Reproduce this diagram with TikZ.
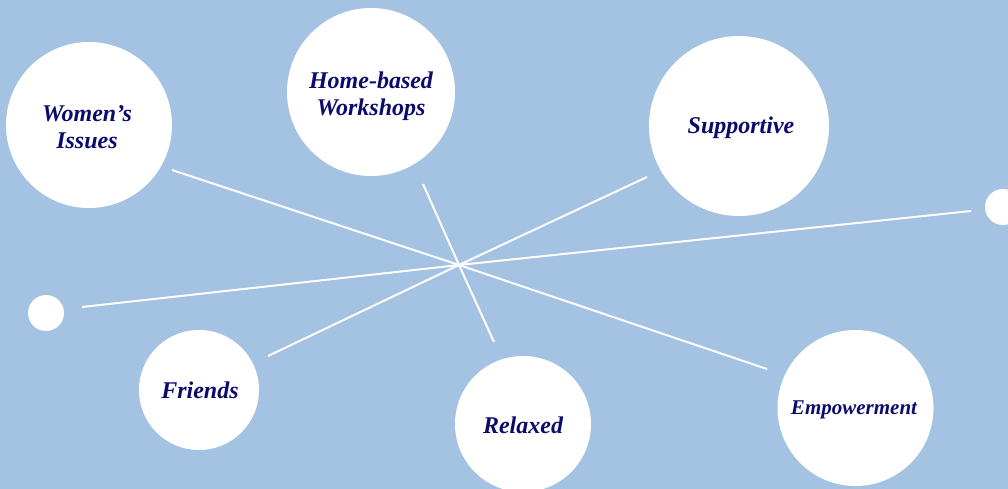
\documentclass[tikz,border=0pt]{standalone}
\usepackage{fontspec}
\setmainfont{Liberation Serif}
\definecolor{bg}{HTML}{A4C2E2}
\definecolor{ink}{HTML}{0B0B6E}
\begin{document}
\begin{tikzpicture}[x=0.75pt,y=-0.75pt,
  bubble/.style={circle,fill=white,draw=none,inner sep=0pt},
  label/.style={text=ink,font=\fontsize{18}{20}\selectfont\bfseries\itshape,align=center,inner sep=0pt},
  spoke/.style={white,line width=1.5pt}]
\useasboundingbox (0,0) rectangle (1008,489);
\clip (0,0) rectangle (1008,489);
\fill[bg] (0,0) rectangle (1008,489);
% bubbles
\node[bubble,minimum size=166*0.75pt] (women) at (89,125) {};
\node[bubble,minimum size=168*0.75pt] (home) at (371,92) {};
\node[bubble,minimum size=180*0.75pt] (supp) at (739,126) {};
\node[bubble,minimum size=36*0.75pt] (dotR) at (1003,207) {};
\node[bubble,minimum size=36*0.75pt] (dotL) at (46,313) {};
\node[bubble,minimum size=120*0.75pt] (friends) at (199,390) {};
\node[bubble,minimum size=136*0.75pt] (relax) at (523,424) {};
\node[bubble,minimum size=156*0.75pt] (emp) at (855.5,408) {};
% labels
\node[label] (twomen) at (87,127) {Women’s\\Issues};
\node[label] (thome) at (371,96) {Home-based\\Workshops};
\node[label] (tsupp) at (741,128) {Supportive};
\node[label] (tfriends) at (200,390) {Friends};
\node[label] (trelax) at (523,425) {Relaxed};
\node[label,font=\fontsize{15.75}{18}\selectfont\bfseries\itshape] (temp) at (854,410) {Empowerment};
% spokes
\coordinate (c) at (459,265);
\coordinate (a1) at (172,170);
\coordinate (a2) at (767,369);
\coordinate (b1) at (423,184);
\coordinate (b2) at (494,342);
\coordinate (d1) at (647,177);
\coordinate (d2) at (268,356);
\coordinate (e1) at (971,211);
\coordinate (e2) at (82,307);
\draw[spoke] (a1) -- (c) -- (a2);
\draw[spoke] (b1) -- (c) -- (b2);
\draw[spoke] (d1) -- (c) -- (d2);
\draw[spoke] (e1) -- (c) -- (e2);
\end{tikzpicture}
\end{document}
